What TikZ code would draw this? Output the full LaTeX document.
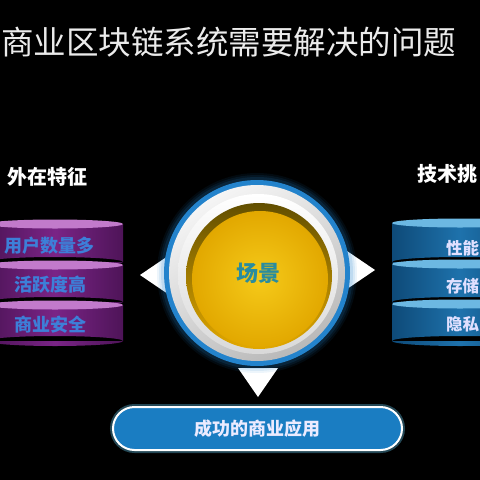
\documentclass[tikz,border=0pt]{standalone}
\usepackage{fontspec}
\newfontfamily\cjk{Noto Sans CJK SC}
\definecolor{purpleband}{HTML}{7A2486}
\definecolor{purpleedge}{HTML}{4E1458}
\definecolor{purplerim}{HTML}{C27ACB}
\definecolor{purpletext}{HTML}{3D7FD8}
\definecolor{blueband}{HTML}{1E72AC}
\definecolor{blueedge}{HTML}{0E4A78}
\definecolor{bluerim}{HTML}{6CB8E2}
\definecolor{ringblue}{HTML}{2383CC}
\definecolor{yel}{HTML}{F4C400}
\definecolor{yeldark}{HTML}{E2A800}
\definecolor{teal}{HTML}{2A8C9E}
\definecolor{pill}{HTML}{1A7DC2}
\tikzset{
  title/.style={text=white!92!black, font=\cjk\fontsize{32.5}{34}\selectfont, inner sep=0pt},
  head/.style={text=white, font=\cjk\bfseries\fontsize{20}{22}\selectfont, inner sep=0pt},
  ptext/.style={text=purpletext, font=\cjk\bfseries\fontsize{18}{20}\selectfont, inner sep=0pt},
  btext/.style={text=white!88!blue, font=\cjk\bfseries\fontsize{16.5}{18}\selectfont, inner sep=0pt},
  arrowtri/.style={fill=white},
}
\begin{document}
\begin{tikzpicture}[x=1pt,y=-1pt]
\useasboundingbox (0,0) rectangle (480,480);
\clip (0,0) rectangle (480,480);
\fill[black] (0,0) rectangle (480,480);

% title
\node[title, anchor=west] (title) at (1,42) {商业区块链系统需要解决的问题};

% headings
\node[head, anchor=west] (outer) at (7,177) {外在特征};
\node[head, anchor=west] (tech) at (417,174) {技术挑};

% left cylinder (purple)
\foreach \yt/\yb in {224/262, 265/302, 305/341}{
  \shade[left color=purpleedge, right color=purpleedge, middle color=purpleband]
    (-13,\yt) rectangle (123,\yb) (55,\yb) ellipse (68 and 5);
  \fill[purplerim] (55,\yt) ellipse (68 and 4.5);
}
\node[ptext] (l1) at (50,246) {用户数量多};
\node[ptext] (l2) at (51,285) {活跃度高};
\node[ptext] (l3) at (51,325) {商业安全};

% right cylinder (blue)
\foreach \yt/\yb in {223/262, 264/302, 304/341}{
  \shade[left color=blueedge, right color=blueedge, middle color=blueband]
    (392,\yt) rectangle (528,\yb) (460,\yb) ellipse (68 and 5);
  \fill[bluerim] (460,\yt) ellipse (68 and 4.5);
}
\node[btext, anchor=west] (r1) at (446,248) {性能};
\node[btext, anchor=west] (r2) at (446,286) {存储};
\node[btext, anchor=west] (r3) at (446,324) {隐私};

% triangles
\fill[arrowtri] (140,275) -- (168,256) -- (168,294) -- cycle;
\fill[arrowtri] (375,270) -- (347,251) -- (347,289) -- cycle;
\fill[arrowtri] (258,397) -- (238,368) -- (278,368) -- cycle;

% central dial
\foreach \r/\o in {100/0.08, 98/0.10, 96/0.14}{
  \fill[ringblue, opacity=\o] (257,273) circle (\r);
}
\fill[ringblue] (257,273) circle (93);
\shade[top color=white!92!gray, bottom color=gray!55, shading angle=30] (257,273) circle (88);
\shade[top color=white, bottom color=gray!30] (258,274) circle (80);
\shade[top color=yel!40!black, bottom color=yeldark] (259,276) circle (73);
\shade[inner color=yel!90!white, outer color=yeldark] (260,279) circle (68);
\node[text=teal, font=\cjk\bfseries\fontsize{22}{24}\selectfont, inner sep=0pt] (scene) at (258,273) {场景};

% bottom pill
\draw[cyan!60!white, opacity=0.35, line width=6pt, rounded corners=21.5pt] (113,407) rectangle (402,450);
\node[draw=white, line width=2pt, fill=pill, rounded corners=21.5pt,
      minimum width=289pt, minimum height=43pt, inner sep=0pt,
      text=white!92!blue, font=\cjk\bfseries\fontsize{18}{20}\selectfont] (app) at (257.5,428.5) {成功的商业应用};
\end{tikzpicture}
\end{document}
